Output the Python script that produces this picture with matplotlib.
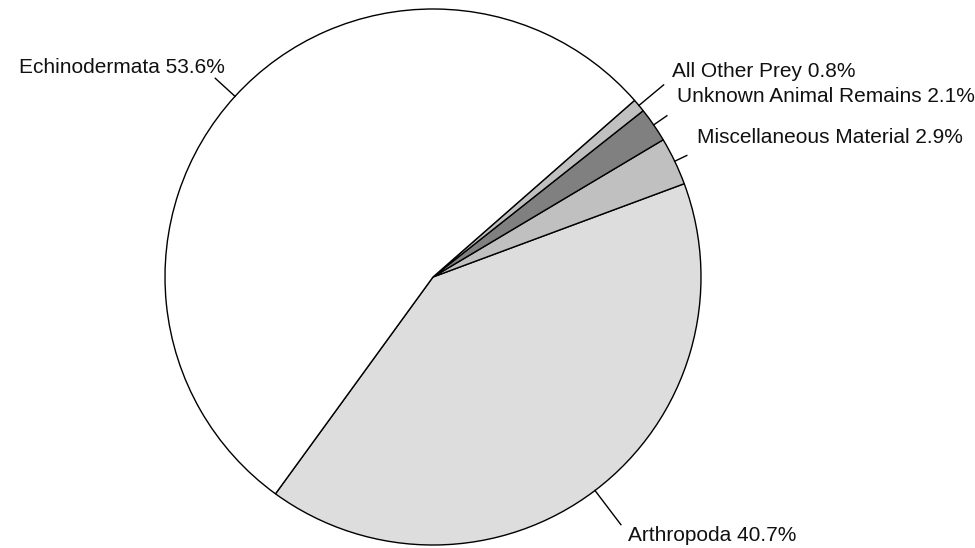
import numpy as np
from matplotlib import pyplot as plt

plt.rcParams['font.family'] = ['Liberation Sans', 'DejaVu Sans']

# wedges listed counter-clockwise starting from the Arthropoda/Echinodermata border
categories = ["Arthropoda", "Miscellaneous Material", "Unknown Animal Remains",
              "All Other Prey", "Echinodermata"]
percents = [40.7, 2.9, 2.1, 0.8, 53.6]
colors = ["#dddddd", "#c0c0c0", "#808080", "#c0c0c0", "#ffffff"]

# leader end radius and label anchor (data units, pie radius = 1)
leader_r = [1.16, 1.05, 1.06, 1.12, 1.10]
label_xy = [(0.728, -0.963), (0.985, 0.522), (0.910, 0.672), (0.892, 0.765), (-0.776, 0.780)]
label_ha = ["left", "left", "left", "left", "right"]

W, H = 975, 548
cx, cy, R = 433, 277, 268

fig = plt.figure(figsize=(W / 100, H / 100), dpi=100)
ax = fig.add_axes([0, 0, 1, 1])

wedges, _ = ax.pie(percents, colors=colors, startangle=-126, counterclock=True,
                   radius=1, wedgeprops=dict(edgecolor='black', linewidth=1.0))

for w, name, p, lr, xy, ha in zip(wedges, categories, percents, leader_r, label_xy, label_ha):
    mid = np.deg2rad((w.theta1 + w.theta2) / 2)
    x0, y0 = np.cos(mid), np.sin(mid)
    ax.plot([x0, lr * x0], [y0, lr * y0], color='black', linewidth=1.0)
    ax.text(xy[0], xy[1], "{} {}%".format(name, p), ha=ha, va='center',
            fontsize=15, color='#111111')

# pie() resets the limits, so set them afterwards
ax.set_xlim(-cx / R, (W - cx) / R)
ax.set_ylim(-(H - cy) / R, cy / R)
ax.set_aspect('equal')
ax.axis('off')

fig.savefig("out.png", dpi=100)
